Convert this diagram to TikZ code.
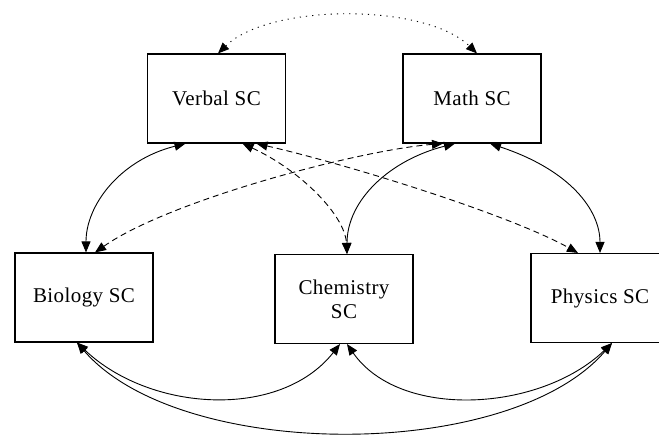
\documentclass[tikz,border=0pt]{standalone}
\usepackage{fontspec}
\setmainfont{Liberation Serif}
\usetikzlibrary{arrows.meta}
\begin{document}
\begin{tikzpicture}[x=1pt,y=-1pt,
  box/.style={draw, line width=1.1pt, minimum width=138pt, minimum height=89pt, inner sep=0pt, align=center, font=\fontsize{21}{24}\selectfont\addfontfeature{LetterSpace=2}},
  link/.style={line width=0.9pt, {Triangle[length=11pt,width=9pt]}-{Triangle[length=11pt,width=9pt]}},
  dsh/.style={link, dash pattern=on 6pt off 4pt},
  dtt/.style={link, dash pattern=on 1.2pt off 5pt}]
\useasboundingbox (0,0) rectangle (659,434);
\node[box] (verbal) at (216.5,98.5) {Verbal SC};
\node[box] (math) at (472,98.5) {Math SC};
\node[box] (bio) at (84,297.5) {Biology SC};
\node[box] (chem) at (344,299) {Chemistry\\SC};
\node[box] (phys) at (600,298) {Physics SC};
\coordinate (vt) at ([xshift=1.5pt]verbal.north);
\coordinate (mt) at ([xshift=5pt]math.north);
\draw[dtt] (vt) .. controls (270,3) and (425,3) .. (mt);
\draw[link] ([xshift=-31pt]verbal.south) .. controls (120,160) and (86,205) .. ([xshift=2pt]bio.north);
\draw[dsh] ([xshift=26pt]verbal.south) .. controls (300,170) and (345,215) .. ([xshift=3pt]chem.north);
\draw[dsh] ([xshift=40pt]verbal.south) .. controls (350,165) and (510,215) .. ([xshift=-22pt]phys.north);
\draw[dsh] ([xshift=-29pt]math.south) .. controls (360,150) and (170,200) .. ([xshift=11pt]bio.north);
\draw[link] ([xshift=-17pt]math.south) .. controls (390,160) and (347,200) .. ([xshift=3pt]chem.north);
\draw[link] ([xshift=18pt]math.south) .. controls (570,170) and (600,210) .. (phys.north);
\draw[link] ([xshift=-7pt]bio.south) .. controls (150,412) and (280,420) .. ([xshift=-4pt]chem.south);
\draw[link] ([xshift=3pt]chem.south) .. controls (400,420) and (540,412) .. ([xshift=12pt]phys.south);
\draw[link] ([xshift=-7pt]bio.south) .. controls (180,462) and (510,462) .. ([xshift=12pt]phys.south);
\end{tikzpicture}
\end{document}
